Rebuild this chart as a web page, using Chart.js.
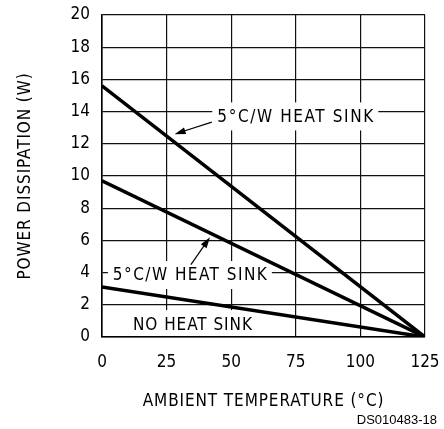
<!DOCTYPE html>
<html>
<head>
<meta charset="utf-8">
<script src="https://cdn.jsdelivr.net/npm/chart.js@4"></script>
<style>
  html, body { margin: 0; padding: 0; background: #fff; }
  #wrap { width: 444px; height: 429px; }
</style>
</head>
<body>
<div id="wrap"><canvas id="chart" width="444" height="429"></canvas></div>
<script>
// データ
const temps = [0, 125];                 // 周囲温度 (°C)
const heatSink5A = [15.6, 0];           // 5°C/W ヒートシンク (上)
const heatSink5B = [9.7, 0];            // 5°C/W ヒートシンク (下)
const noHeatSink = [3.1, 0];            // ヒートシンクなし
const xTicks = [0, 25, 50, 75, 100, 125];
const yTicks = [0, 2, 4, 6, 8, 10, 12, 14, 16, 18, 20];
const labelTexts = ['5°C/W HEAT SINK', '5°C/W HEAT SINK', 'NO HEAT SINK'];

const FONT = '"DejaVu Sans Condensed", "DejaVu Sans", sans-serif';

function toPoints(ys) {
    return temps.map((t, i) => ({ x: t, y: ys[i] }));
}

// ラベル位置 (データ座標) と幅
const labelSpots = [
    { x: 74.8, y: 13.7, w: 156 },
    { x: 34.0, y: 3.85, w: 154 },
    { x: 35.0, y: 0.8, w: 119 }
];

// ラベルと矢印を描くプラグイン
const notes = {
    id: 'notes',
    // 白い背景で格子を隠す (線より先に描く)
    beforeDatasetsDraw(chart) {
        const c = chart.ctx;
        const xs = chart.scales.x, ys = chart.scales.y;
        const area = chart.chartArea;
        c.save();
        c.fillStyle = '#fff';
        labelSpots.forEach(l => {
            const cx = xs.getPixelForValue(l.x), cy = ys.getPixelForValue(l.y);
            const top = Math.max(cy - 14, area.top + 1);
            const bottom = Math.min(cy + 14, area.bottom - 1);
            const left = Math.max(cx - l.w / 2 - 5, area.left + 1);
            c.fillRect(left, top, cx + l.w / 2 + 5 - left, bottom - top);
        });
        c.restore();
    },
    afterDatasetsDraw(chart) {
        const c = chart.ctx;
        const xs = chart.scales.x, ys = chart.scales.y;
        const px = v => xs.getPixelForValue(v);
        const py = v => ys.getPixelForValue(v);

        c.save();
        c.font = '17px ' + FONT;
        c.textBaseline = 'middle';
        c.textAlign = 'left';
        c.fillStyle = '#000';
        labelSpots.forEach((l, i) => {
            const text = labelTexts[i];
            c.letterSpacing = '0px';
            const natural = c.measureText(text).width;
            c.letterSpacing = ((l.w - natural) / (text.length - 1)) + 'px';
            c.fillText(text, px(l.x) - l.w / 2, py(l.y) + 1);
        });
        c.letterSpacing = '0px';

        // 矢印
        const arrows = [
            { from: [42.5, 13.35], to: [28.1, 12.6] },
            { from: [34.4, 4.5], to: [41.8, 6.2] }
        ];
        c.strokeStyle = '#000';
        c.lineWidth = 1.2;
        arrows.forEach(a => {
            const x1 = px(a.from[0]), y1 = py(a.from[1]);
            const x2 = px(a.to[0]), y2 = py(a.to[1]);
            const ang = Math.atan2(y2 - y1, x2 - x1);
            const cs = Math.cos(ang), sn = Math.sin(ang);
            c.beginPath();
            c.moveTo(x1, y1);
            c.lineTo(x2 - 6 * cs, y2 - 6 * sn);
            c.stroke();
            c.beginPath();
            c.moveTo(x2, y2);
            c.lineTo(x2 - 11 * cs + 3.5 * sn, y2 - 11 * sn - 3.5 * cs);
            c.lineTo(x2 - 11 * cs - 3.5 * sn, y2 - 11 * sn + 3.5 * cs);
            c.closePath();
            c.fill();
        });

        // 軸タイトル
        const area = chart.chartArea;
        c.font = '17px ' + FONT;
        c.letterSpacing = '0.9px';
        c.textAlign = 'center';
        c.fillText('AMBIENT TEMPERATURE (°C)', (area.left + area.right) / 2, 402);
        c.save();
        c.translate(26, (area.top + area.bottom) / 2);
        c.rotate(-Math.PI / 2);
        c.fillText('POWER DISSIPATION (W)', 0, 0);
        c.restore();
        c.letterSpacing = '0px';

        c.font = '13px "Liberation Sans", Arial, sans-serif';
        c.textAlign = 'right';
        c.fillText('DS010483-18', 437, 420);
        c.restore();
    }
};

let ctx = document.getElementById('chart').getContext('2d');
let chart = new Chart(ctx, {
    type: 'line',
    data: {
        datasets: [
            { data: toPoints(heatSink5A) },
            { data: toPoints(heatSink5B) },
            { data: toPoints(noHeatSink) }
        ].map(d => Object.assign(d, {
            borderColor: '#000',
            borderWidth: 3.5,
            pointRadius: 0,
            fill: false,
            tension: 0
        }))
    },
    options: {
        responsive: false,
        animation: false,
        layout: { padding: { top: 15, right: 19, left: 0, bottom: 0 } },
        plugins: {
            legend: { display: false },
            tooltip: { enabled: false }
        },
        scales: {
            x: {
                type: 'linear',
                min: 0,
                max: 125,
                afterBuildTicks: s => { s.ticks = xTicks.map(v => ({ value: v })); },
                afterFit: s => { s.height = 92; s.paddingLeft = 0; s.paddingRight = 0; },
                grid: { color: '#111', lineWidth: 1.2, drawTicks: false },
                border: { color: '#000', width: 1.6 },
                ticks: {
                    padding: 15,
                    color: '#000',
                    font: { family: FONT, size: 17 }
                }
            },
            y: {
                type: 'linear',
                min: 0,
                max: 20,
                afterBuildTicks: s => { s.ticks = yTicks.map(v => ({ value: v })); },
                afterFit: s => { s.width = 102; s.paddingTop = 0; s.paddingBottom = 0; },
                grid: { color: '#111', lineWidth: 1.2, drawTicks: false },
                border: { color: '#000', width: 1.6 },
                ticks: {
                    padding: 12,
                    color: '#000',
                    font: { family: FONT, size: 17 }
                }
            }
        }
    },
    plugins: [notes]
});
</script>
</body>
</html>
